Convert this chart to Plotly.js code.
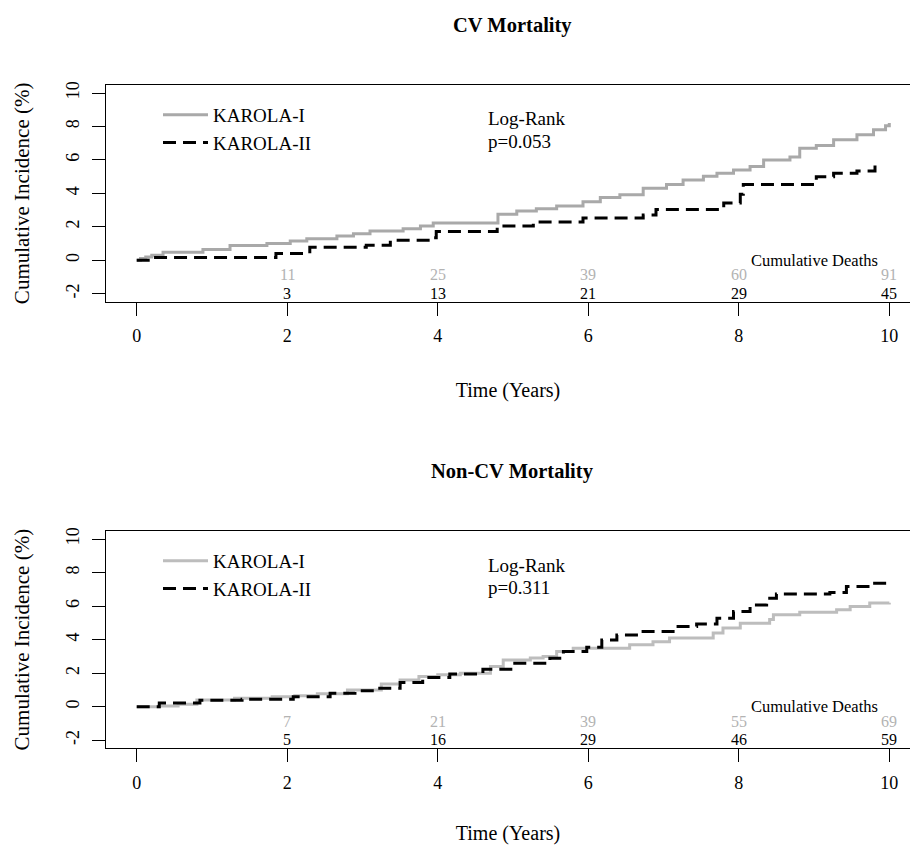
<!DOCTYPE html>
<html><head><meta charset="utf-8">
<script src="https://cdn.plot.ly/plotly-3.0.1.min.js"></script>
<style>html,body{margin:0;padding:0;background:#fff;overflow:hidden}</style>
</head><body><div id="chart" style="width:910px;height:845px"></div>
<script>
// ---------- data ----------
const seriesNames = ['KAROLA-I', 'KAROLA-II'];
const panelTitles = ['CV Mortality', 'Non-CV Mortality'];
const logRankP = ['p=0.053', 'p=0.311'];

// CV mortality, cumulative incidence (%) step curves
const cvTime1 = [0, 0.05, 0.12, 0.2, 0.35, 0.88, 1.24, 1.73, 2.04, 2.26, 2.66, 2.88, 3.1, 3.54, 3.77, 3.94, 4.8, 5.05, 5.31, 5.58, 5.93, 6.16, 6.42, 6.73, 7.04, 7.26, 7.53, 7.71, 7.93, 8.15, 8.33, 8.68, 8.81, 9.03, 9.26, 9.57, 9.79, 9.95, 10.0];
const cvInc1  = [0, 0.1, 0.2, 0.3, 0.48, 0.64, 0.88, 1.0, 1.15, 1.29, 1.45, 1.59, 1.75, 1.89, 2.05, 2.22, 2.75, 2.94, 3.08, 3.24, 3.5, 3.75, 3.92, 4.3, 4.53, 4.8, 5.03, 5.2, 5.4, 5.6, 6.0, 6.18, 6.7, 6.86, 7.2, 7.5, 7.8, 8.05, 8.2];
const cvTime2 = [0, 0.22, 1.85, 2.3, 3.05, 3.37, 3.9, 3.98, 4.79, 5.27, 5.93, 6.73, 6.9, 7.8, 8.02, 8.06, 9.03, 9.26, 9.57, 9.81, 9.85];
const cvInc2  = [0, 0.16, 0.4, 0.78, 0.9, 1.2, 1.35, 1.72, 2.05, 2.28, 2.52, 2.7, 3.04, 3.42, 3.94, 4.53, 4.99, 5.2, 5.33, 5.72, 5.8];

// Non-CV mortality
const ncvTime1 = [0, 0.3, 0.55, 0.8, 1.3, 1.8, 2.1, 2.4, 2.8, 3.25, 3.5, 3.75, 4.0, 4.3, 4.7, 4.87, 5.23, 5.4, 5.58, 5.8, 6.55, 6.86, 7.08, 7.66, 7.79, 8.02, 8.41, 8.46, 8.81, 9.3, 9.48, 9.74, 10.0];
const ncvInc1  = [0, 0.05, 0.15, 0.4, 0.5, 0.6, 0.65, 0.78, 1.0, 1.35, 1.6, 1.8, 1.9, 2.0, 2.4, 2.79, 2.9, 3.0, 3.3, 3.48, 3.7, 3.88, 4.1, 4.4, 4.7, 4.98, 5.2, 5.48, 5.63, 5.78, 5.97, 6.18, 6.2];
const ncvTime2 = [0, 0.3, 0.84, 1.4, 2.08, 2.57, 2.9, 3.2, 3.5, 3.8, 4.16, 4.6, 5.0, 5.49, 5.67, 5.98, 6.18, 6.38, 6.69, 7.17, 7.44, 7.71, 7.93, 8.15, 8.37, 8.5, 9.21, 9.43, 9.74, 9.98];
const ncvInc2  = [0, 0.22, 0.38, 0.45, 0.6, 0.8, 0.95, 1.1, 1.45, 1.75, 1.95, 2.23, 2.59, 2.89, 3.29, 3.55, 3.98, 4.28, 4.48, 4.78, 4.94, 5.28, 5.68, 6.07, 6.47, 6.73, 6.81, 7.17, 7.37, 7.57];

// cumulative deaths at time ticks
const deathTimes = [2, 4, 6, 8, 10];
const cvDeaths1  = [11, 25, 39, 60, 91];
const cvDeaths2  = [3, 13, 21, 29, 45];
const ncvDeaths1 = [7, 21, 39, 55, 69];
const ncvDeaths2 = [5, 16, 29, 46, 59];

const xTicks = [0, 2, 4, 6, 8, 10];
const yTicks = [-2, 0, 2, 4, 6, 8, 10];

// ---------- style ----------
const FONT = "'Liberation Serif', 'Times New Roman', serif";
const GREY1 = '#a9a9a9', GREY2 = '#bdbdbd', NUMGREY = '#b3b3b3';
const W = 910, H = 845;
const topBox = [85, 301.7], botBox = [531, 748.3];
const dom = b => [1 - b[1] / H, 1 - b[0] / H];

const panels = [
  {t1: cvTime1, v1: cvInc1, t2: cvTime2, v2: cvInc2, d1: cvDeaths1, d2: cvDeaths2, grey: GREY1, box: topBox},
  {t1: ncvTime1, v1: ncvInc1, t2: ncvTime2, v2: ncvInc2, d1: ncvDeaths1, d2: ncvDeaths2, grey: GREY2, box: botBox}
];

const traces = [];
const annotations = [];
const layout = {
  width: W, height: H,
  margin: {l: 106, r: 0, t: 0, b: 0},
  paper_bgcolor: '#fff', plot_bgcolor: '#fff',
  font: {family: FONT, color: '#000'},
  showlegend: true,
  annotations: annotations
};

panels.forEach((p, i) => {
  const xs = i === 0 ? 'x' : 'x2', ys = i === 0 ? 'y' : 'y2';
  const lg = i === 0 ? 'legend' : 'legend2';
  traces.push({x: p.t1, y: p.v1, xaxis: xs, yaxis: ys, type: 'scatter', mode: 'lines',
    line: {shape: 'hv', color: p.grey, width: 3}, name: seriesNames[0], legend: lg, hoverinfo: 'skip'});
  traces.push({x: p.t2, y: p.v2, xaxis: xs, yaxis: ys, type: 'scatter', mode: 'lines',
    line: {shape: 'hv', color: '#000', width: 3, dash: '13px,7px'}, name: seriesNames[1], legend: lg, hoverinfo: 'skip'});

  const xk = i === 0 ? 'xaxis' : 'xaxis2', yk = i === 0 ? 'yaxis' : 'yaxis2';
  layout[xk] = {
    domain: [0, 1], anchor: ys, range: [-0.408, 10.275],
    tickvals: xTicks, ticktext: xTicks.map(String),
    ticks: 'outside', ticklen: 13, tickwidth: 1, tickcolor: '#000',
    showline: true, linecolor: '#000', linewidth: 1, mirror: true,
    showgrid: false, zeroline: false, ticklabelstandoff: 5,
    tickfont: {family: FONT, size: 18, color: '#000'},
    title: {text: 'Time (Years)', font: {family: FONT, size: 20, color: '#000'}, standoff: 37}
  };
  layout[yk] = {
    domain: dom(p.box), anchor: xs, range: [-2.48, 10.48],
    tickvals: yTicks, ticktext: yTicks.map(String), tickangle: -90,
    ticks: 'outside', ticklen: 13, tickwidth: 1, tickcolor: '#000',
    showline: true, linecolor: '#000', linewidth: 1, mirror: false,
    showgrid: false, zeroline: false, ticklabelstandoff: 6,
    tickfont: {family: FONT, size: 18, color: '#000'},
    title: {text: 'Cumulative Incidence (%)', font: {family: FONT, size: 21, color: '#000'}, standoff: 27}
  };
  layout[lg] = {
    x: (158 - 106) / 804, xanchor: 'left', xref: 'paper',
    y: 1 - (p.box[0] + 11) / H, yanchor: 'top', yref: 'paper',
    bgcolor: 'rgba(0,0,0,0)', borderwidth: 0, itemwidth: 45,
    font: {family: FONT, size: 19, color: '#000'}, tracegroupgap: 0
  };

  // panel title
  annotations.push({xref: 'paper', yref: 'paper', x: (512 - 106) / 804, y: 1 - (p.box[0] - 60) / H,
    text: '<b>' + panelTitles[i] + '</b>', showarrow: false, xanchor: 'center', yanchor: 'middle',
    font: {family: FONT, size: 20.5, color: '#000'}});
  // log-rank
  annotations.push({xref: xs, yref: ys, x: 4.64, y: 8.45, text: 'Log-Rank', showarrow: false,
    xanchor: 'left', yanchor: 'middle', font: {family: FONT, size: 19, color: '#000'}});
  annotations.push({xref: xs, yref: ys, x: 4.64, y: 7.1, text: logRankP[i], showarrow: false,
    xanchor: 'left', yanchor: 'middle', font: {family: FONT, size: 19, color: '#000'}});
  // cumulative deaths
  annotations.push({xref: xs, yref: ys, x: 9.88, y: 0.0, text: 'Cumulative Deaths', showarrow: false,
    xanchor: 'right', yanchor: 'middle', font: {family: FONT, size: 16.5, color: '#000'}});
  deathTimes.forEach((t, k) => {
    annotations.push({xref: xs, yref: ys, x: t, y: -0.86, text: String(p.d1[k]), showarrow: false,
      xanchor: 'center', yanchor: 'middle', font: {family: FONT, size: 16, color: NUMGREY}});
    annotations.push({xref: xs, yref: ys, x: t, y: -1.98, text: String(p.d2[k]), showarrow: false,
      xanchor: 'center', yanchor: 'middle', font: {family: FONT, size: 16, color: '#000'}});
  });
});

Plotly.newPlot('chart', traces, layout, {displayModeBar: false, staticPlot: true});
</script></body></html>
